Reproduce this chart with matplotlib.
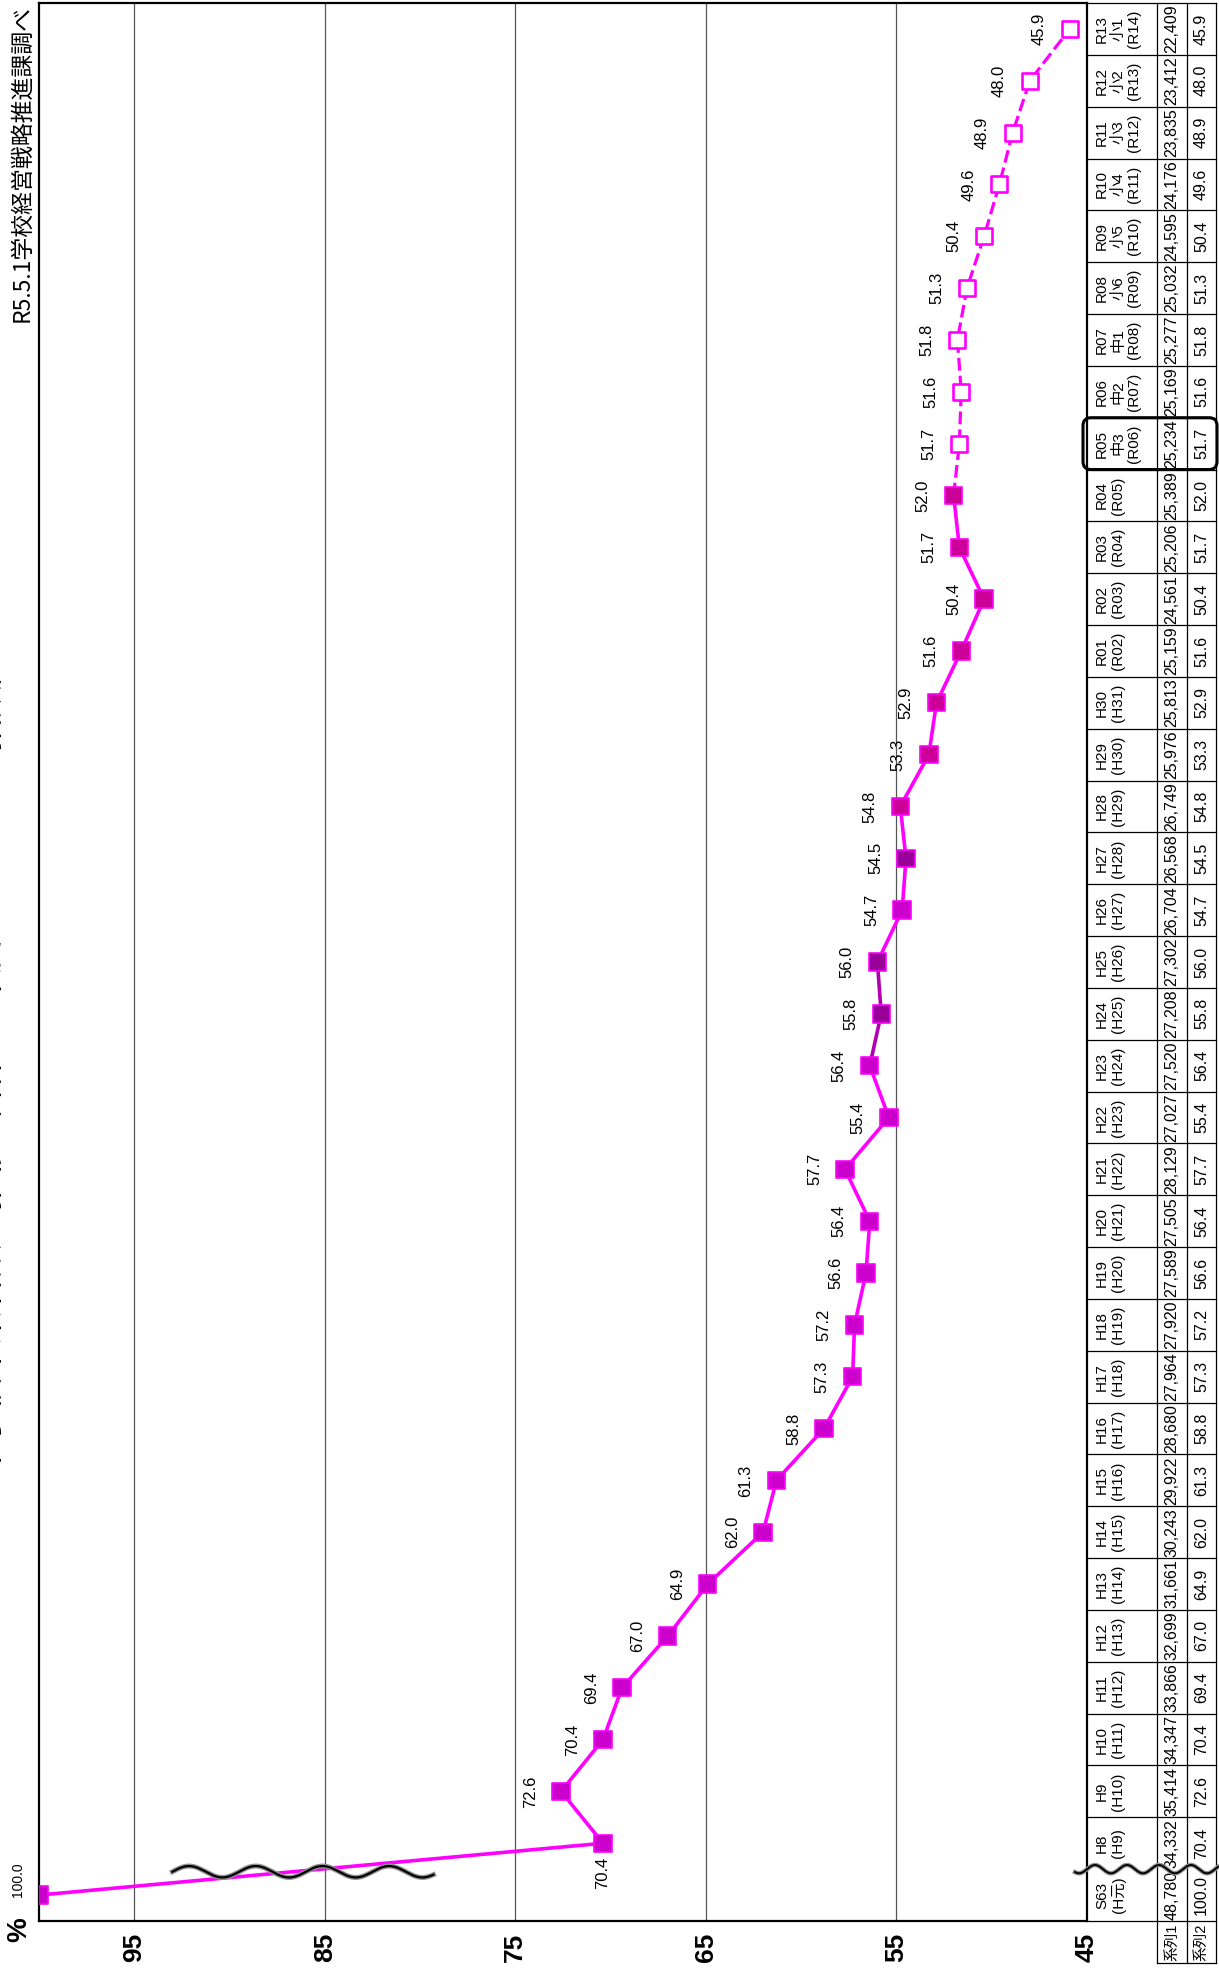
import matplotlib
matplotlib.use("Agg")
import matplotlib.pyplot as plt
import matplotlib.patheffects as pe
from matplotlib.patches import FancyBboxPatch
import numpy as np

plt.rcParams['font.family'] = ['Liberation Sans', 'Noto Sans CJK JP']

# ---- data ----
years = ["S63", "H8", "H9", "H10", "H11", "H12", "H13", "H14", "H15", "H16",
         "H17", "H18", "H19", "H20", "H21", "H22", "H23", "H24", "H25", "H26",
         "H27", "H28", "H29", "H30", "R01", "R02", "R03", "R04", "R05", "R06",
         "R07", "R08", "R09", "R10", "R11", "R12", "R13"]
next_years = ["H元", "H9", "H10", "H11", "H12", "H13", "H14", "H15", "H16", "H17",
              "H18", "H19", "H20", "H21", "H22", "H23", "H24", "H25", "H26", "H27",
              "H28", "H29", "H30", "H31", "R02", "R03", "R04", "R05", "R06", "R07",
              "R08", "R09", "R10", "R11", "R12", "R13", "R14"]
grades = [""] * 28 + ["中3", "中2", "中1", "小6", "小5", "小4", "小3", "小2", "小1"]
counts = [48780, 34332, 35414, 34347, 33866, 32699, 31661, 30243, 29922, 28680,
          27964, 27920, 27589, 27505, 28129, 27027, 27520, 27208, 27302, 26704,
          26568, 26749, 25976, 25813, 25159, 24561, 25206, 25389, 25234, 25169,
          25277, 25032, 24595, 24176, 23835, 23412, 22409]
ratios = [100.0, 70.4, 72.6, 70.4, 69.4, 67.0, 64.9, 62.0, 61.3, 58.8,
          57.3, 57.2, 56.6, 56.4, 57.7, 55.4, 56.4, 55.8, 56.0, 54.7,
          54.5, 54.8, 53.3, 52.9, 51.6, 50.4, 51.7, 52.0, 51.7, 51.6,
          51.8, 51.3, 50.4, 49.6, 48.9, 48.0, 45.9]
n_actual = 28          # S63..R04 are actual figures, R05.. are projections
series_names = ["系列1", "系列2"]
grid_values = [95, 85, 75, 65, 55]
tick_values = [95, 85, 75, 65, 55, 45]
source_note = "R5.5.1学校経営戦略推進課調べ"
title = "中学校卒業者数の推移（昭和63年度を100とした指数）"

# ---- styles ----
MAG = "#FF00FF"
face = ["#CC00CC"] * n_actual
for k in (17, 18, 20):
    face[k] = "#990099"
for k in (21, 22, 23, 24, 25, 26, 27):
    face[k] = "#CC0099"
seg = [MAG] * (n_actual - 1)
seg[16] = "#B000B0"
seg[17] = "#B000B0"

W, H = 1219, 1977
fig = plt.figure(figsize=(W / 100, H / 100), dpi=100)


def fx(px):
    return px / W


def fy(py):
    return 1 - py / H


ax = fig.add_axes([fx(39), fy(1921), fx(1087) - fx(39), fy(3) - fy(1921)])
ax.set_xlim(100, 45)
ax.set_ylim(-0.5, len(years) - 0.5)
ax.set_xticks([])
ax.set_yticks([])
for s in ax.spines.values():
    s.set_linewidth(1.6)
for v in grid_values:
    ax.axvline(v, color="#555555", lw=0.9, zorder=1)

idx = np.arange(len(years))

# actual (solid) part
for i in range(n_actual - 1):
    ax.plot(ratios[i:i + 2], idx[i:i + 2], color=seg[i], lw=2.6, zorder=2,
            solid_capstyle="butt")
# projection (dashed) part
ax.plot(ratios[n_actual - 1:], idx[n_actual - 1:], color=MAG, lw=2.3,
        ls=(0, (4, 1.6)), zorder=2)
ax.scatter(ratios[:n_actual], idx[:n_actual], marker="s", s=12.5 ** 2,
           c=face, edgecolors=MAG, linewidths=1.2, zorder=3)
ax.scatter(ratios[n_actual:], idx[n_actual:], marker="s", s=11.5 ** 2,
           facecolors="white", edgecolors=MAG, linewidths=1.9, zorder=3)

# data labels
for i, v in enumerate(ratios):
    if i == 0:
        off, fs = (-15, 11), 10
    elif i == 1:
        off, fs = (0, -21), 12
    else:
        off, fs = (-22, 0), 12
    ax.annotate(f"{v:.1f}", xy=(v, i), xytext=off, textcoords="offset points",
                rotation=90, ha="center", va="center", fontsize=fs,
                annotation_clip=False, zorder=4)

# value axis labels
for v in tick_values:
    ax.annotate(str(v), xy=(v, -0.5), xytext=(0, -19), textcoords="offset points",
                rotation=90, ha="center", va="center", fontsize=19,
                fontweight="bold", annotation_clip=False)
ax.annotate("%", xy=(100, -0.5), xytext=(-14, -6), textcoords="offset points",
            rotation=90, ha="center", va="center", fontsize=20,
            fontweight="bold", annotation_clip=False)

# break mark on the plot
xb = np.linspace(93.0, 79.3, 300)
yb = 0.45 + 0.11 * np.sin(2 * np.pi * (xb - 93.0) / 3.5 + np.pi)
ax.plot(xb, yb, color="black", lw=1.6, zorder=5, clip_on=False,
        path_effects=[pe.withStroke(linewidth=3.6, foreground="#909090")])

# ---- data table on the right ----
tab = fig.add_axes([fx(1087), fy(1921), fx(1216) - fx(1087), fy(3) - fy(1921)])
tab.set_xlim(0, 129)
tab.set_ylim(-0.5, len(years) - 0.5)
tab.axis("off")
row_px = 1918 / len(years)
y_bot = -0.5 - 42 / row_px
c1, c2 = 70, 100

for b in np.arange(-0.5, len(years)):
    if abs(b - 0.5) < 1e-6:
        continue
    tab.plot([0, 129], [b, b], color="black", lw=0.9, clip_on=False)
for xv in (c1, c2, 129):
    tab.plot([xv, xv], [y_bot, len(years) - 0.5], color="black", lw=0.9,
             clip_on=False)
tab.plot([c1, 129], [y_bot, y_bot], color="black", lw=0.9, clip_on=False)

for i in idx:
    if grades[i]:
        lbl = f"{years[i]}\n{grades[i]}\n({next_years[i]})"
    else:
        lbl = f"{years[i]}\n({next_years[i]})"
    tab.text(8, i, lbl, rotation=90, ha="left", va="center", fontsize=11,
             linespacing=1.2, multialignment="center")
    tab.text((c1 + c2) / 2, i, f"{counts[i]:,}", rotation=90, ha="center",
             va="center", fontsize=11.5)
    tab.text((c2 + 129) / 2, i, f"{ratios[i]:.1f}", rotation=90, ha="center",
             va="center", fontsize=11.5)

ym = (-0.5 + y_bot) / 2
tab.text((c1 + c2) / 2, ym, series_names[0], rotation=90, ha="center",
         va="center", fontsize=10.5)
tab.text((c2 + 129) / 2, ym, series_names[1], rotation=90, ha="center",
         va="center", fontsize=10.5)

# highlight box around the first projected row
box = FancyBboxPatch((-4, n_actual - 0.5), 134, 1.0,
                     boxstyle="round,pad=0,rounding_size=8",
                     mutation_aspect=1 / row_px, fill=False, ec="black",
                     lw=2.2, clip_on=False, zorder=5)
tab.add_patch(box)

# break mark across the table
xt = np.linspace(-12, 131, 300)
yt = 0.5 + 0.08 * np.sin(2 * np.pi * xt / 32)
tab.plot(xt, yt, color="black", lw=1.4, clip_on=False, zorder=5,
         path_effects=[pe.withStroke(linewidth=3.2, foreground="#909090")])

# texts along the left edge
fig.text(fx(22), fy(5), source_note, rotation=90, ha="center", va="top",
         fontsize=16.5, family=["Noto Sans CJK JP"])
fig.text(fx(-14), fy(1060), title, rotation=90, ha="center", va="center",
         fontsize=24, family=["Noto Sans CJK JP"])

fig.savefig("out.png", dpi=100)
